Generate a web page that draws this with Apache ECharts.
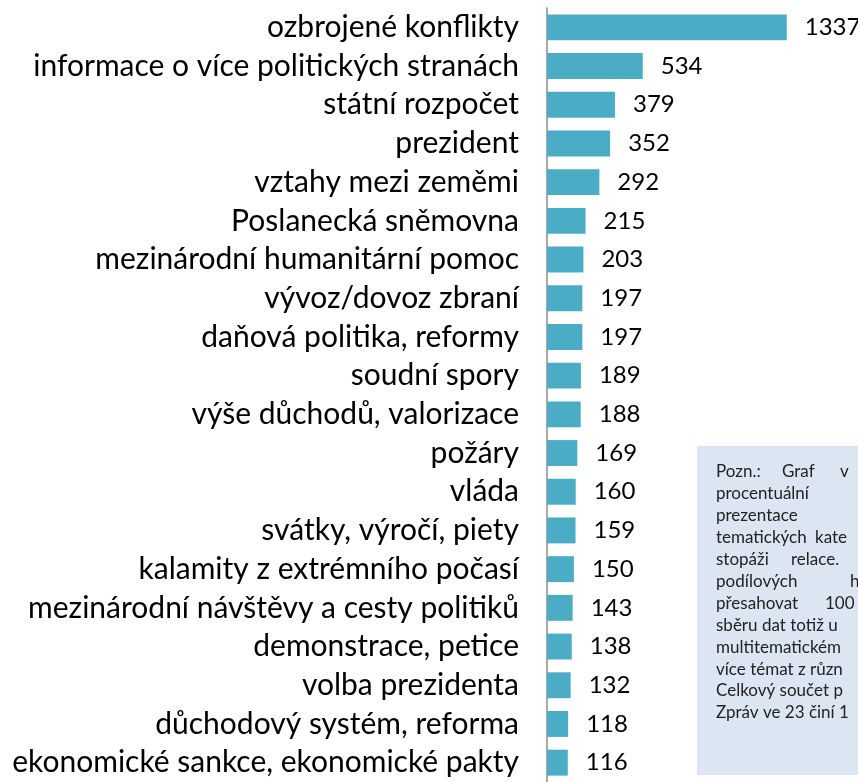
<!DOCTYPE html>
<html>
<head>
<meta charset="utf-8">
<script src="https://cdn.jsdelivr.net/npm/echarts@6/dist/echarts.min.js"></script>
<style>
  html, body { margin: 0; padding: 0; background: #fff; }
  #chart { width: 858px; height: 782px; }
</style>
</head>
<body>
<div id="chart"></div>
<script>
const categories = [
  'ozbrojené konflikty',
  'informace o více politických stranách',
  'státní rozpočet',
  'prezident',
  'vztahy mezi zeměmi',
  'Poslanecká sněmovna',
  'mezinárodní humanitární pomoc',
  'vývoz/dovoz zbraní',
  'daňová politika, reformy',
  'soudní spory',
  'výše důchodů, valorizace',
  'požáry',
  'vláda',
  'svátky, výročí, piety',
  'kalamity z extrémního počasí',
  'mezinárodní návštěvy a cesty politiků',
  'demonstrace, petice',
  'volba prezidenta',
  'důchodový systém, reforma',
  'ekonomické sankce, ekonomické pakty'
]
const counts = [1337, 534, 379, 352, 292, 215, 203, 197, 197, 189, 188, 169, 160, 159, 150, 143, 138, 132, 118, 116]

// note box lines (cut off at the right edge like the original)
const noteLines = [
  [['Pozn.:', 716], ['Graf', 782], ['v', 840]],
  [['procentuální', 716]],
  [['prezentace', 716]],
  [['tematických', 716], ['kate', 815]],
  [['stopáži', 716], ['relace.', 791]],
  [['podílových', 716], ['h', 850]],
  [['přesahovat', 716], ['100', 825]],
  [['sběru dat totiž u', 716]],
  [['multitematickém', 716]],
  [['více témat z různ', 716]],
  [['Celkový součet p', 716]],
  [['Zpráv ve 23 činí 1', 716]]
]

const font = 'Lato'
const chart = echarts.init(document.getElementById('chart'))

const noteText = []
noteLines.forEach((line, i) => {
  line.forEach(([word, x]) => {
    noteText.push({
      type: 'text',
      x: x,
      y: 472 + i * 21.9,
      z: 10,
      style: { text: word, font: '17px ' + font, fill: '#222', verticalAlign: 'middle' }
    })
  })
})

chart.setOption({
  animation: false,
  grid: { left: 547, top: 8, width: 269, height: 780 },
  xAxis: {
    type: 'value',
    min: 0,
    max: 1500,
    show: false
  },
  yAxis: {
    type: 'category',
    inverse: true,
    data: categories,
    axisLine: { lineStyle: { color: '#8c8c8c', width: 1.5 } },
    axisTick: { length: 10, lineStyle: { color: '#8c8c8c', width: 1.5 } },
    axisLabel: { interval: 0, margin: 28, fontFamily: font, fontSize: 30, color: '#000' }
  },
  series: [{
    type: 'bar',
    data: counts,
    barCategoryGap: '33%',
    itemStyle: { color: '#4bacc6' },
    label: {
      show: true,
      position: 'right',
      distance: 18,
      fontFamily: font,
      fontSize: 24,
      color: '#000'
    }
  }],
  graphic: [
    {
      type: 'rect',
      shape: { x: 697, y: 446, width: 170, height: 329 },
      style: { fill: '#dce6f2' },
      z: 5
    },
    ...noteText
  ]
})
</script>
</body>
</html>
